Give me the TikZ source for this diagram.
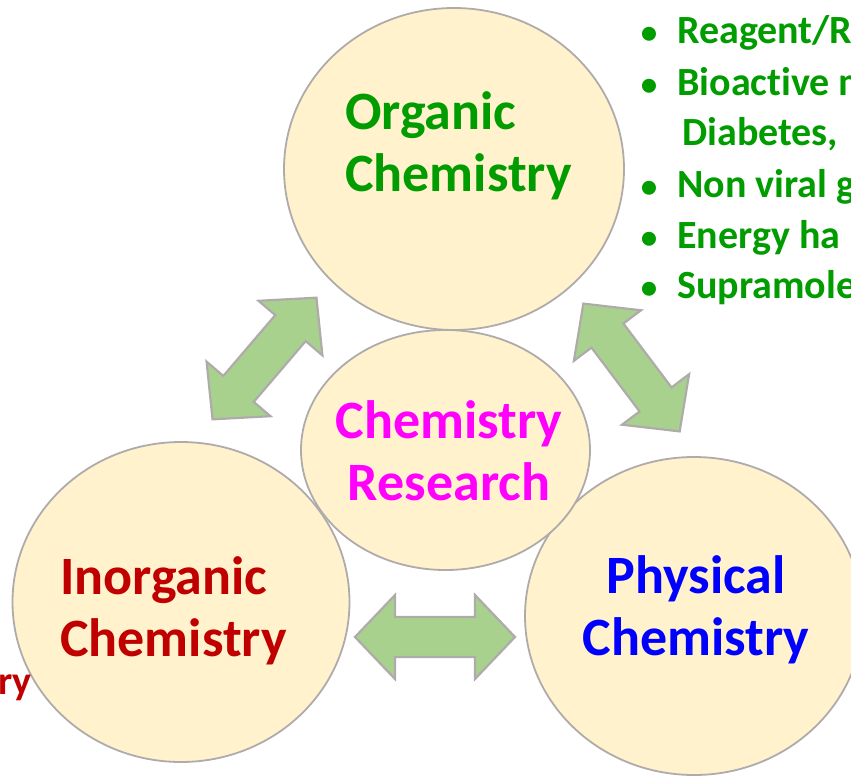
\documentclass[tikz,border=0pt]{standalone}
\usepackage{fontspec}
\setmainfont{Carlito}[Ligatures=NoCommon]
\usetikzlibrary{shapes.geometric}

\definecolor{bubblefill}{HTML}{FFF2CC}
\definecolor{rimgray}{HTML}{AFABAB}
\definecolor{arrowgreen}{HTML}{A9D18E}
\definecolor{orggreen}{HTML}{009C00}
\definecolor{inorgred}{HTML}{C00000}
\definecolor{physblue}{HTML}{0000FF}
\definecolor{resmagenta}{HTML}{FF00FF}

\tikzset{
  bubble/.style={ellipse, draw=rimgray, fill=bubblefill, line width=1.8pt, inner sep=0pt},
  biglabel/.style={font=\bfseries\fontsize{54}{62}\selectfont, inner sep=0pt},
  item/.style={font=\bfseries\fontsize{40}{48}\selectfont, text=orggreen, inner sep=0pt},
  itemdot/.style={font=\bfseries\fontsize{33}{38}\selectfont, text=orggreen, inner sep=0pt},
  arrowbody/.style={draw=rimgray, fill=arrowgreen, line width=2.2pt, line join=miter},
  pics/dblarrow/.style={code={
    \draw[arrowbody] (-80,0) -- (-40,42) -- (-40,20) -- (40,20) -- (40,42) -- (80,0)
      -- (40,-42) -- (40,-20) -- (-40,-20) -- (-40,-42) -- cycle;
  }}
}

\begin{document}
\begin{tikzpicture}[x=1pt,y=-1pt]
    \useasboundingbox (0,0) rectangle (851,777);
    \clip (0,0) rectangle (851,777);
    % circles
    \node[bubble, minimum width=340pt, minimum height=322pt] (org) at (454,169) {};
    \node[bubble, minimum width=337pt, minimum height=320pt] (inorg) at (181,602) {};
    \node[bubble, minimum width=338pt, minimum height=318pt] (phys) at (694,616) {};
    \node[bubble, minimum width=289pt, minimum height=240pt] (res) at (445.5,450) {};
    % arrows
    \pic[rotate=49.5] (upleft) at (264.5,358.5) {dblarrow};
    \pic[rotate=-53] (upright) at (631.5,367.5) {dblarrow};
    \pic (bottom) at (435,637) {dblarrow};
    % labels
    \node[biglabel, text=orggreen, anchor=base west] (org1) at (345,129) {Organic};
    \node[biglabel, text=orggreen, anchor=base west] (org2) at (345,191) {Chemistry};
    \node[biglabel, text=resmagenta, anchor=base] (res1) at (449,438) {Chemistry};
    \node[biglabel, text=resmagenta, anchor=base] (res2) at (449,500) {Research};
    \node[biglabel, text=inorgred, anchor=base west] (inorg1) at (60,594) {Inorganic};
    \node[biglabel, text=inorgred, anchor=base west] (inorg2) at (60,656) {Chemistry};
    \node[biglabel, text=physblue, anchor=base] (phys1) at (696,593) {Physical};
    \node[biglabel, text=physblue, anchor=base] (phys2) at (696,655) {Chemistry};
    % cut text on the left
    \node[item, text=inorgred, anchor=base east] (leftcut) at (32,694) {ry};
    % bullet list
    \node[itemdot, anchor=base] (dot1) at (649,43) {•};
    \node[item, anchor=base west] (it1) at (677,43) {Reagent/R};
    \node[itemdot, anchor=base] (dot2) at (649,95) {•};
    \node[item, anchor=base west] (it2) at (677,95) {Bioactive m};
    \node[item, anchor=base west] (it2b) at (682,145) {Diabetes,};
    \node[itemdot, anchor=base] (dot3) at (649,197) {•};
    \node[item, anchor=base west] (it3) at (677,197) {Non viral g};
    \node[itemdot, anchor=base] (dot4) at (649,248) {•};
    \node[item, anchor=base west] (it4) at (677,248) {Energy ha};
    \node[itemdot, anchor=base] (dot5) at (649,298) {•};
    \node[item, anchor=base west] (it5) at (677,298) {Supramole};
\end{tikzpicture}
\end{document}
